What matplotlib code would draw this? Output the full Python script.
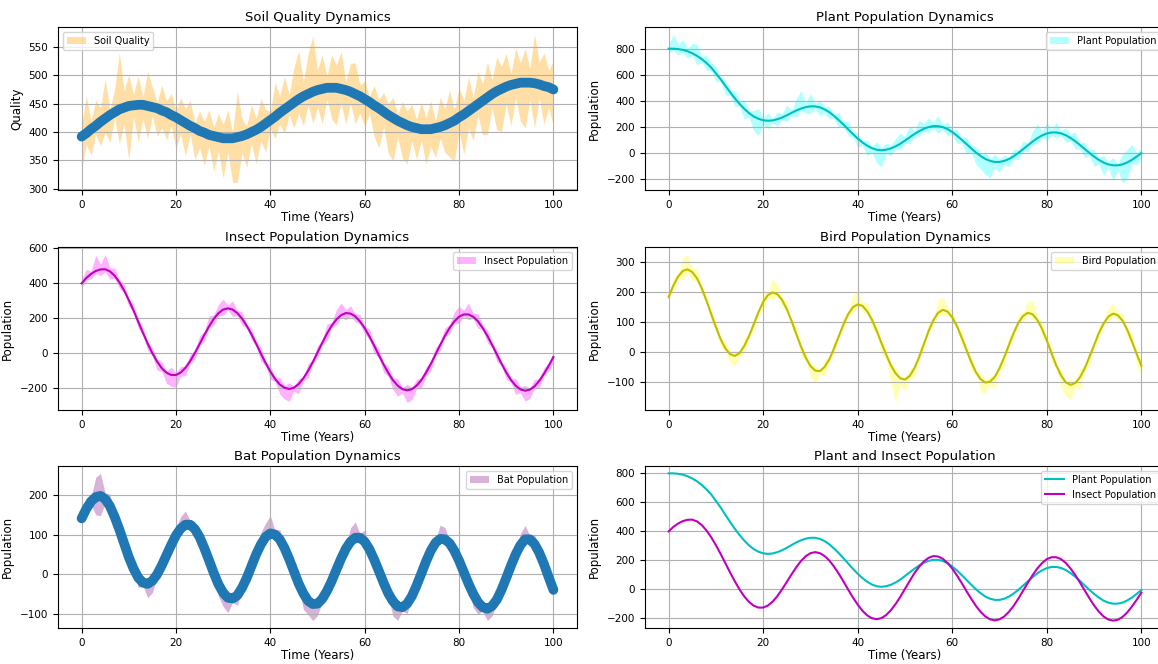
import numpy as np
import matplotlib
matplotlib.use("Agg")
import matplotlib.pyplot as plt

# ---------------- data (1-year steps) ----------------
years = list(range(0, 101))

soil = [392, 398, 405, 411, 418, 424, 430, 435, 440, 443, 446, 447, 448, 448, 446, 444, 442, 438, 435, 430,
        426, 421, 416, 411, 407, 402, 399, 395, 393, 391, 389, 389, 389, 391, 393, 396, 400, 404, 409, 415,
        421, 427, 434, 440, 446, 452, 458, 463, 467, 471, 474, 476, 478, 478, 478, 476, 474, 471, 467, 463,
        458, 453, 447, 442, 436, 430, 425, 420, 416, 412, 409, 407, 405, 405, 405, 407, 409, 412, 416, 420,
        426, 431, 437, 443, 449, 455, 461, 467, 472, 476, 480, 483, 485, 487, 487, 487, 486, 484, 481, 479,
        475]
soil_up = [20, 65, 15, 45, 25, 70, 10, 40, 100, 30, 55, 20, 50, 15, 60, 35, 10, 45, 20, 38,
           12, 40, 25, 45, 10, 35, 20, 44, 15, 42, 25, 50, 10, 82, 30, 15, 48, 20, 50, 25,
           15, 60, 30, 58, 20, 62, 85, 25, 70, 98, 35, 60, 20, 58, 40, 66, 15, 50, 55, 20,
           32, 10, 35, 15, 34, 20, 36, 12, 38, 25, 40, 15, 48, 20, 50, 12, 52, 30, 58, 20,
           52, 25, 60, 18, 58, 30, 62, 25, 60, 40, 58, 20, 62, 35, 60, 25, 86, 40, 58, 30,
           50]
soil_down = [58, 20, 45, 15, 42, 25, 48, 10, 60, 30, 95, 20, 65, 25, 58, 15, 50, 30, 48, 20,
             55, 25, 58, 15, 55, 30, 58, 20, 62, 25, 70, 25, 78, 80, 30, 58, 20, 60, 25, 50,
             15, 38, 20, 42, 15, 45, 25, 52, 20, 55, 30, 62, 20, 55, 65, 25, 60, 20, 52, 30,
             48, 20, 55, 70, 25, 68, 75, 30, 62, 68, 25, 55, 20, 62, 30, 52, 20, 48, 60, 72,
             25, 70, 30, 58, 20, 60, 65, 25, 68, 75, 30, 72, 25, 68, 80, 30, 78, 25, 68, 35,
             65]

plant = [800, 800, 797, 791, 780, 765, 745, 720, 690, 655, 610, 565, 515, 465, 418, 375, 337, 304, 278, 260,
         249, 245, 248, 257, 270, 287, 306, 324, 339, 350, 356, 356, 348, 333, 311, 282, 250, 215, 178, 142,
         108, 78, 53, 34, 22, 18, 22, 32, 48, 68, 93, 118, 143, 165, 184, 197, 204, 204, 196, 181,
         158, 130, 99, 66, 33, 1, -26, -49, -64, -72, -72, -64, -49, -28, -2, 27, 56, 85, 111, 132,
         147, 155, 155, 148, 134, 113, 88, 59, 28, -2, -31, -56, -77, -91, -98, -98, -91, -76, -56, -31,
         -4]
plant_up = [30, 110, 40, 80, 25, 75, 90, 20, 60, 35, 50, 15, 45, 20, 60, 25, 70, 15, 45, 80,
            20, 60, 15, 55, 30, 80, 20, 90, 140, 35, 100, 25, 55, 20, 45, 15, 60, 20, 65, 15,
            45, 20, 40, 15, 60, 20, 50, 25, 60, 80, 30, 90, 25, 85, 40, 70, 30, 80, 20, 55,
            25, 45, 15, 55, 20, 45, 15, 55, 20, 60, 20, 45, 15, 55, 25, 60, 20, 80, 110, 30,
            85, 25, 80, 20, 55, 30, 70, 15, 55, 20, 60, 15, 55, 20, 60, 15, 80, 100, 120, 30,
            40]
plant_down = [40, 15, 45, 20, 55, 15, 70, 20, 55, 25, 60, 20, 70, 25, 60, 20, 80, 30, 110, 130,
              30, 60, 20, 55, 15, 50, 20, 55, 15, 45, 55, 20, 60, 25, 55, 20, 60, 15, 50, 20,
              70, 20, 80, 30, 100, 130, 30, 60, 20, 50, 20, 50, 15, 40, 20, 45, 15, 55, 20, 50,
              20, 60, 25, 80, 30, 90, 100, 120, 130, 40, 80, 25, 60, 20, 50, 15, 50, 20, 45, 15,
              55, 20, 45, 15, 55, 20, 60, 25, 70, 20, 75, 30, 100, 25, 120, 40, 140, 130, 30, 60,
              40]

insect = [400, 431, 454, 471, 480, 481, 469, 444, 407, 360, 305, 245, 181, 117, 56, 0, -48, -86, -112, -125,
          -125, -111, -84, -46, 1, 52, 104, 153, 196, 229, 250, 257, 250, 230, 199, 157, 108, 54, -2, -56,
          -105, -147, -179, -198, -205, -198, -177, -144, -101, -51, 4, 59, 112, 157, 193, 218, 230, 227, 211, 182,
          144, 96, 44, -11, -64, -113, -155, -186, -206, -213, -206, -186, -154, -112, -62, -8, 47, 99, 145, 182,
          209, 222, 222, 209, 183, 145, 100, 48, -6, -60, -110, -153, -186, -207, -215, -209, -190, -159, -118, -72,
          -22]
insect_up = [20, 50, 15, 90, 30, 85, 20, 45, 15, 35, 10, 35, 15, 30, 10, 30, 15, 35, 10, 45,
             15, 35, 10, 40, 15, 45, 20, 60, 25, 50, 60, 20, 50, 15, 40, 10, 30, 15, 35, 10,
             35, 10, 40, 15, 35, 10, 30, 10, 40, 15, 40, 15, 55, 20, 55, 70, 20, 45, 15, 40,
             10, 40, 15, 35, 10, 35, 15, 40, 10, 35, 10, 35, 15, 35, 10, 40, 15, 45, 20, 55,
             60, 25, 65, 20, 45, 15, 35, 10, 30, 10, 30, 10, 40, 15, 30, 10, 40, 15, 35, 15,
             30]
insect_down = [30, 10, 30, 15, 35, 15, 45, 15, 35, 10, 35, 10, 35, 15, 40, 15, 50, 20, 60, 65,
               70, 20, 45, 15, 35, 10, 35, 10, 35, 15, 35, 10, 40, 15, 40, 10, 30, 15, 45, 15,
               45, 15, 55, 65, 70, 20, 55, 15, 40, 10, 30, 10, 40, 10, 30, 10, 40, 15, 30, 15,
               35, 15, 45, 15, 45, 20, 55, 60, 20, 70, 60, 20, 50, 15, 40, 10, 30, 10, 30, 10,
               40, 10, 30, 10, 40, 10, 40, 15, 40, 10, 40, 15, 50, 20, 60, 50, 15, 40, 10, 30,
               30]

bird = [183, 221, 251, 270, 275, 266, 245, 212, 171, 126, 82, 42, 11, -8, -14, -5, 19, 52, 92, 132,
        166, 189, 198, 192, 173, 142, 103, 59, 17, -20, -48, -63, -65, -51, -25, 11, 52, 92, 126, 149,
        158, 153, 135, 107, 70, 30, -9, -45, -72, -89, -93, -81, -55, -18, 26, 69, 105, 130, 140, 134,
        115, 85, 47, 6, -34, -68, -92, -103, -100, -84, -55, -18, 23, 63, 97, 120, 130, 125, 106, 76,
        37, -5, -46, -79, -102, -111, -105, -86, -56, -18, 22, 62, 94, 117, 127, 122, 104, 74, 35, -7,
        -47]
bird_up = [10, 25, 8, 45, 50, 12, 35, 8, 20, 10, 20, 5, 20, 8, 20, 8, 30, 8, 20, 10,
           35, 10, 45, 35, 8, 25, 5, 25, 5, 15, 8, 15, 5, 25, 8, 25, 8, 25, 10, 40,
           45, 10, 30, 8, 20, 5, 20, 5, 20, 5, 8, 25, 5, 30, 8, 30, 10, 40, 45, 10,
           30, 5, 20, 8, 20, 5, 20, 8, 20, 5, 20, 8, 30, 8, 30, 10, 40, 45, 10, 30,
           8, 20, 5, 20, 5, 20, 8, 30, 8, 20, 8, 30, 10, 30, 35, 10, 25, 5, 25, 10,
           20]
bird_down = [8, 20, 8, 30, 10, 30, 8, 20, 8, 30, 8, 30, 10, 30, 35, 10, 25, 5, 25, 8,
             25, 8, 25, 10, 25, 8, 25, 8, 35, 10, 35, 40, 10, 30, 8, 20, 5, 20, 8, 20,
             8, 20, 8, 30, 10, 40, 15, 60, 98, 20, 40, 10, 30, 8, 20, 5, 20, 8, 20, 8,
             20, 8, 30, 10, 30, 8, 40, 35, 10, 40, 10, 30, 8, 20, 5, 20, 8, 20, 8, 30,
             8, 30, 8, 40, 45, 50, 15, 40, 10, 30, 8, 20, 8, 20, 5, 20, 8, 30, 10, 40,
             30]

bat = [141, 165, 184, 195, 198, 190, 172, 145, 113, 78, 43, 14, -9, -22, -25, -17, -1, 22, 48, 74,
       98, 115, 125, 125, 114, 94, 66, 35, 3, -26, -47, -60, -62, -54, -35, -10, 20, 50, 75, 94,
       103, 100, 88, 66, 38, 7, -24, -49, -68, -76, -75, -63, -43, -18, 11, 39, 64, 82, 92, 92,
       82, 63, 37, 8, -22, -49, -69, -82, -84, -75, -56, -29, 1, 32, 59, 79, 89, 88, 78, 59,
       34, 5, -24, -50, -71, -84, -88, -81, -65, -40, -10, 21, 50, 73, 88, 88, 76, 54, 25, -8,
       -40]
bat_up = [10, 20, 10, 50, 57, 15, 30, 8, 25, 8, 20, 8, 10, 8, 10, 8, 20, 8, 20, 10,
          20, 30, 35, 10, 20, 8, 20, 8, 10, 8, 15, 8, 15, 8, 15, 8, 15, 8, 30, 35,
          45, 10, 25, 8, 15, 8, 15, 8, 15, 8, 15, 8, 15, 8, 15, 25, 8, 35, 40, 10,
          30, 8, 15, 8, 15, 8, 15, 8, 15, 8, 15, 8, 25, 8, 25, 8, 35, 30, 8, 20,
          8, 20, 8, 10, 8, 10, 8, 20, 8, 10, 8, 20, 8, 30, 35, 10, 25, 8, 15, 8,
          15]
bat_down = [8, 15, 8, 45, 50, 10, 20, 8, 15, 8, 15, 8, 25, 8, 35, 30, 8, 15, 8, 15,
            8, 15, 8, 15, 8, 25, 8, 20, 8, 30, 35, 38, 10, 25, 8, 15, 8, 15, 8, 15,
            8, 15, 8, 15, 8, 25, 8, 40, 35, 42, 30, 8, 20, 8, 10, 8, 20, 8, 10, 8,
            20, 8, 20, 8, 30, 8, 38, 35, 10, 25, 8, 15, 8, 15, 8, 15, 8, 15, 8, 15,
            8, 25, 8, 35, 30, 10, 30, 25, 8, 15, 8, 15, 8, 15, 8, 15, 8, 15, 8, 25,
            20]

titles = ["Soil Quality Dynamics", "Plant Population Dynamics", "Insect Population Dynamics",
          "Bird Population Dynamics", "Bat Population Dynamics", "Plant and Insect Population"]

# ---------------- figure ----------------
W, H = 1158, 664
fig = plt.figure(figsize=(W / 100, H / 100), dpi=100)


def px_axes(x0, y0, x1, y1):
    return fig.add_axes([x0 / W, 1 - y1 / H, (x1 - x0) / W, (y1 - y0) / H])


LX = (58, 577)
RX = (645, 1165)
ROWS = [(27, 190), (247, 410), (466, 628)]

TITLE_FS = 9.5
LABEL_FS = 8.5
TICK_FS = 7.5
LEG_FS = 7

axes = []
for (y0, y1) in ROWS:
    axes.append(px_axes(LX[0], y0, LX[1], y1))
    axes.append(px_axes(RX[0], y0, RX[1], y1))

t = np.array(years)


def band(ax, y, up, down, color, alpha, label):
    y = np.array(y, dtype=float)
    ax.fill_between(t, y - np.array(down), y + np.array(up), color=color, alpha=alpha,
                    linewidth=0, label=label)


# Soil
ax = axes[0]
band(ax, soil, soil_up, soil_down, "orange", 0.35, "Soil Quality")
ax.plot(t, soil, color="#1f77b4", lw=7, solid_capstyle="round")
ax.set_ylabel("Quality", fontsize=LABEL_FS)
ax.legend(loc="upper left", fontsize=LEG_FS)

# Plant
ax = axes[1]
band(ax, plant, plant_up, plant_down, "cyan", 0.3, "Plant Population")
ax.plot(t, plant, color="c", lw=1.5)
ax.set_ylabel("Population", fontsize=LABEL_FS)
ax.legend(loc="upper right", fontsize=LEG_FS)

# Insect
ax = axes[2]
band(ax, insect, insect_up, insect_down, "magenta", 0.3, "Insect Population")
ax.plot(t, insect, color="m", lw=1.5)
ax.set_ylabel("Population", fontsize=LABEL_FS)
ax.legend(loc="upper right", fontsize=LEG_FS)

# Bird
ax = axes[3]
band(ax, bird, bird_up, bird_down, "yellow", 0.3, "Bird Population")
ax.plot(t, bird, color="y", lw=1.5)
ax.set_ylabel("Population", fontsize=LABEL_FS)
ax.legend(loc="upper right", fontsize=LEG_FS)

# Bat
ax = axes[4]
band(ax, bat, bat_up, bat_down, "purple", 0.3, "Bat Population")
ax.plot(t, bat, color="#1f77b4", lw=7, solid_capstyle="round")
ax.set_ylabel("Population", fontsize=LABEL_FS)
ax.legend(loc="upper right", fontsize=LEG_FS)

# Plant and insect
ax = axes[5]
ax.plot(t, plant, color="c", lw=1.5, label="Plant Population")
ax.plot(t, insect, color="m", lw=1.5, label="Insect Population")
ax.set_ylabel("Population", fontsize=LABEL_FS)
ax.legend(loc="upper right", fontsize=LEG_FS)

for ax, title in zip(axes, titles):
    ax.set_title(title, fontsize=TITLE_FS, pad=4)
    ax.set_xlabel("Time (Years)", fontsize=LABEL_FS, labelpad=1)
    ax.tick_params(labelsize=TICK_FS)
    ax.grid(True, color="#b0b0b0", lw=0.8)

fig.savefig("out.png", dpi=100)
